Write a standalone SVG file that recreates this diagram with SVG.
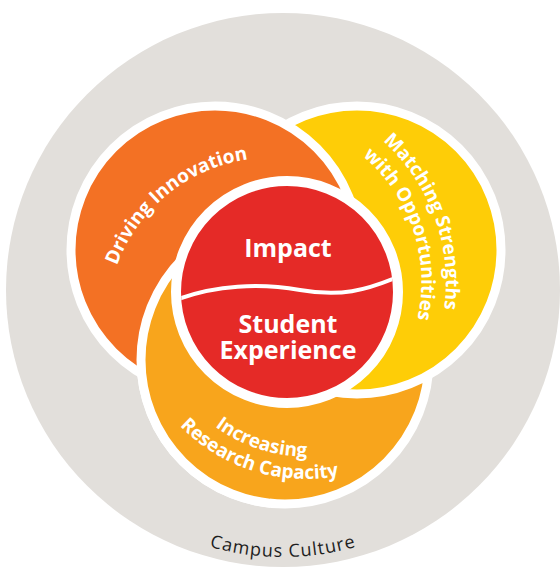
<svg xmlns="http://www.w3.org/2000/svg" width="560" height="568" viewBox="0 0 560 568">
  <style>
    .ring { stroke: #ffffff; stroke-width: 9; }
    .lbl { font-family: "Open Sans", "Liberation Sans", sans-serif; font-weight: 700; fill: #ffffff; }
    .arc { font-size: 19px; }
    .core { font-size: 25px; text-anchor: middle; }
    .campus { font-family: "Open Sans", "Liberation Sans", sans-serif; font-size: 18px; letter-spacing: 1px; fill: #1e1e1e; }
  </style>
  <defs>
    <path id="pCampus" d="M51.77,423.5 A267,267 0 0 0 514.23,423.5" fill="none"/>
    <path id="pDrive" d="M108.54,348.89 A165.5,165.5 0 0 1 331.31,168.49" fill="none"/>
    <path id="pMatchOuter" d="M305.92,99.44 A189,189 0 0 1 411.82,390.41" fill="none"/>
    <path id="pMatchInner" d="M303.72,124.27 A164.5,164.5 0 0 1 389.23,379.85" fill="none"/>
    <path id="pIncInner" d="M159.21,347.88 A153.5,153.5 0 0 0 398.38,425.59" fill="none"/>
    <path id="pIncOuter" d="M138.15,355.92 A176,176 0 0 0 413.14,442.63" fill="none"/>
    <clipPath id="leftHalf"><rect x="0" y="0" width="270" height="568"/></clipPath>
    <clipPath id="coreClip"><circle cx="287" cy="292" r="106"/></clipPath>
  </defs>

  <rect width="560" height="568" fill="#ffffff"/>

  <g id="campus-culture">
    <circle cx="283" cy="290" r="277" fill="#e2dfdb"/>
    <text class="campus"><textPath href="#pCampus" startOffset="50%" text-anchor="middle">Campus Culture</textPath></text>
  </g>

  <g id="increasing-research-capacity">
    <circle class="ring" cx="285" cy="360" r="144" fill="#f8a51c"/>
  </g>

  <g id="matching-strengths">
    <circle class="ring" cx="357" cy="250" r="144" fill="#fecd07"/>
    <text class="lbl arc"><textPath href="#pMatchOuter" startOffset="50%" text-anchor="middle">Matching Strengths</textPath></text>
    <text class="lbl arc"><textPath href="#pMatchInner" startOffset="50%" text-anchor="middle">with Opportunities</textPath></text>
  </g>

  <g id="driving-innovation">
    <circle class="ring" cx="215" cy="250" r="144" fill="#f37124"/>
    <text class="lbl arc"><textPath href="#pDrive" startOffset="50%" text-anchor="middle">Driving Innovation</textPath></text>
  </g>

  <g id="increasing-research-capacity-front">
    <circle class="ring" cx="285" cy="360" r="144" fill="#f8a51c" clip-path="url(#leftHalf)"/>
    <text class="lbl arc"><textPath href="#pIncInner" startOffset="50%" text-anchor="middle">Increasing</textPath></text>
    <text class="lbl arc"><textPath href="#pIncOuter" startOffset="50%" text-anchor="middle">Research Capacity</textPath></text>
  </g>

  <g id="impact-student-experience">
    <circle cx="287" cy="292" r="111" fill="#e52a27" stroke="#ffffff" stroke-width="10"/>
    <path d="M176,300 C215,285 260,283 300,290 S365,291 400,276" fill="none" stroke="#ffffff" stroke-width="4" clip-path="url(#coreClip)"/>
    <text class="lbl core" x="288" y="257">Impact</text>
    <text class="lbl core" x="288" y="333">Student</text>
    <text class="lbl core" x="288" y="359">Experience</text>
  </g>
</svg>
